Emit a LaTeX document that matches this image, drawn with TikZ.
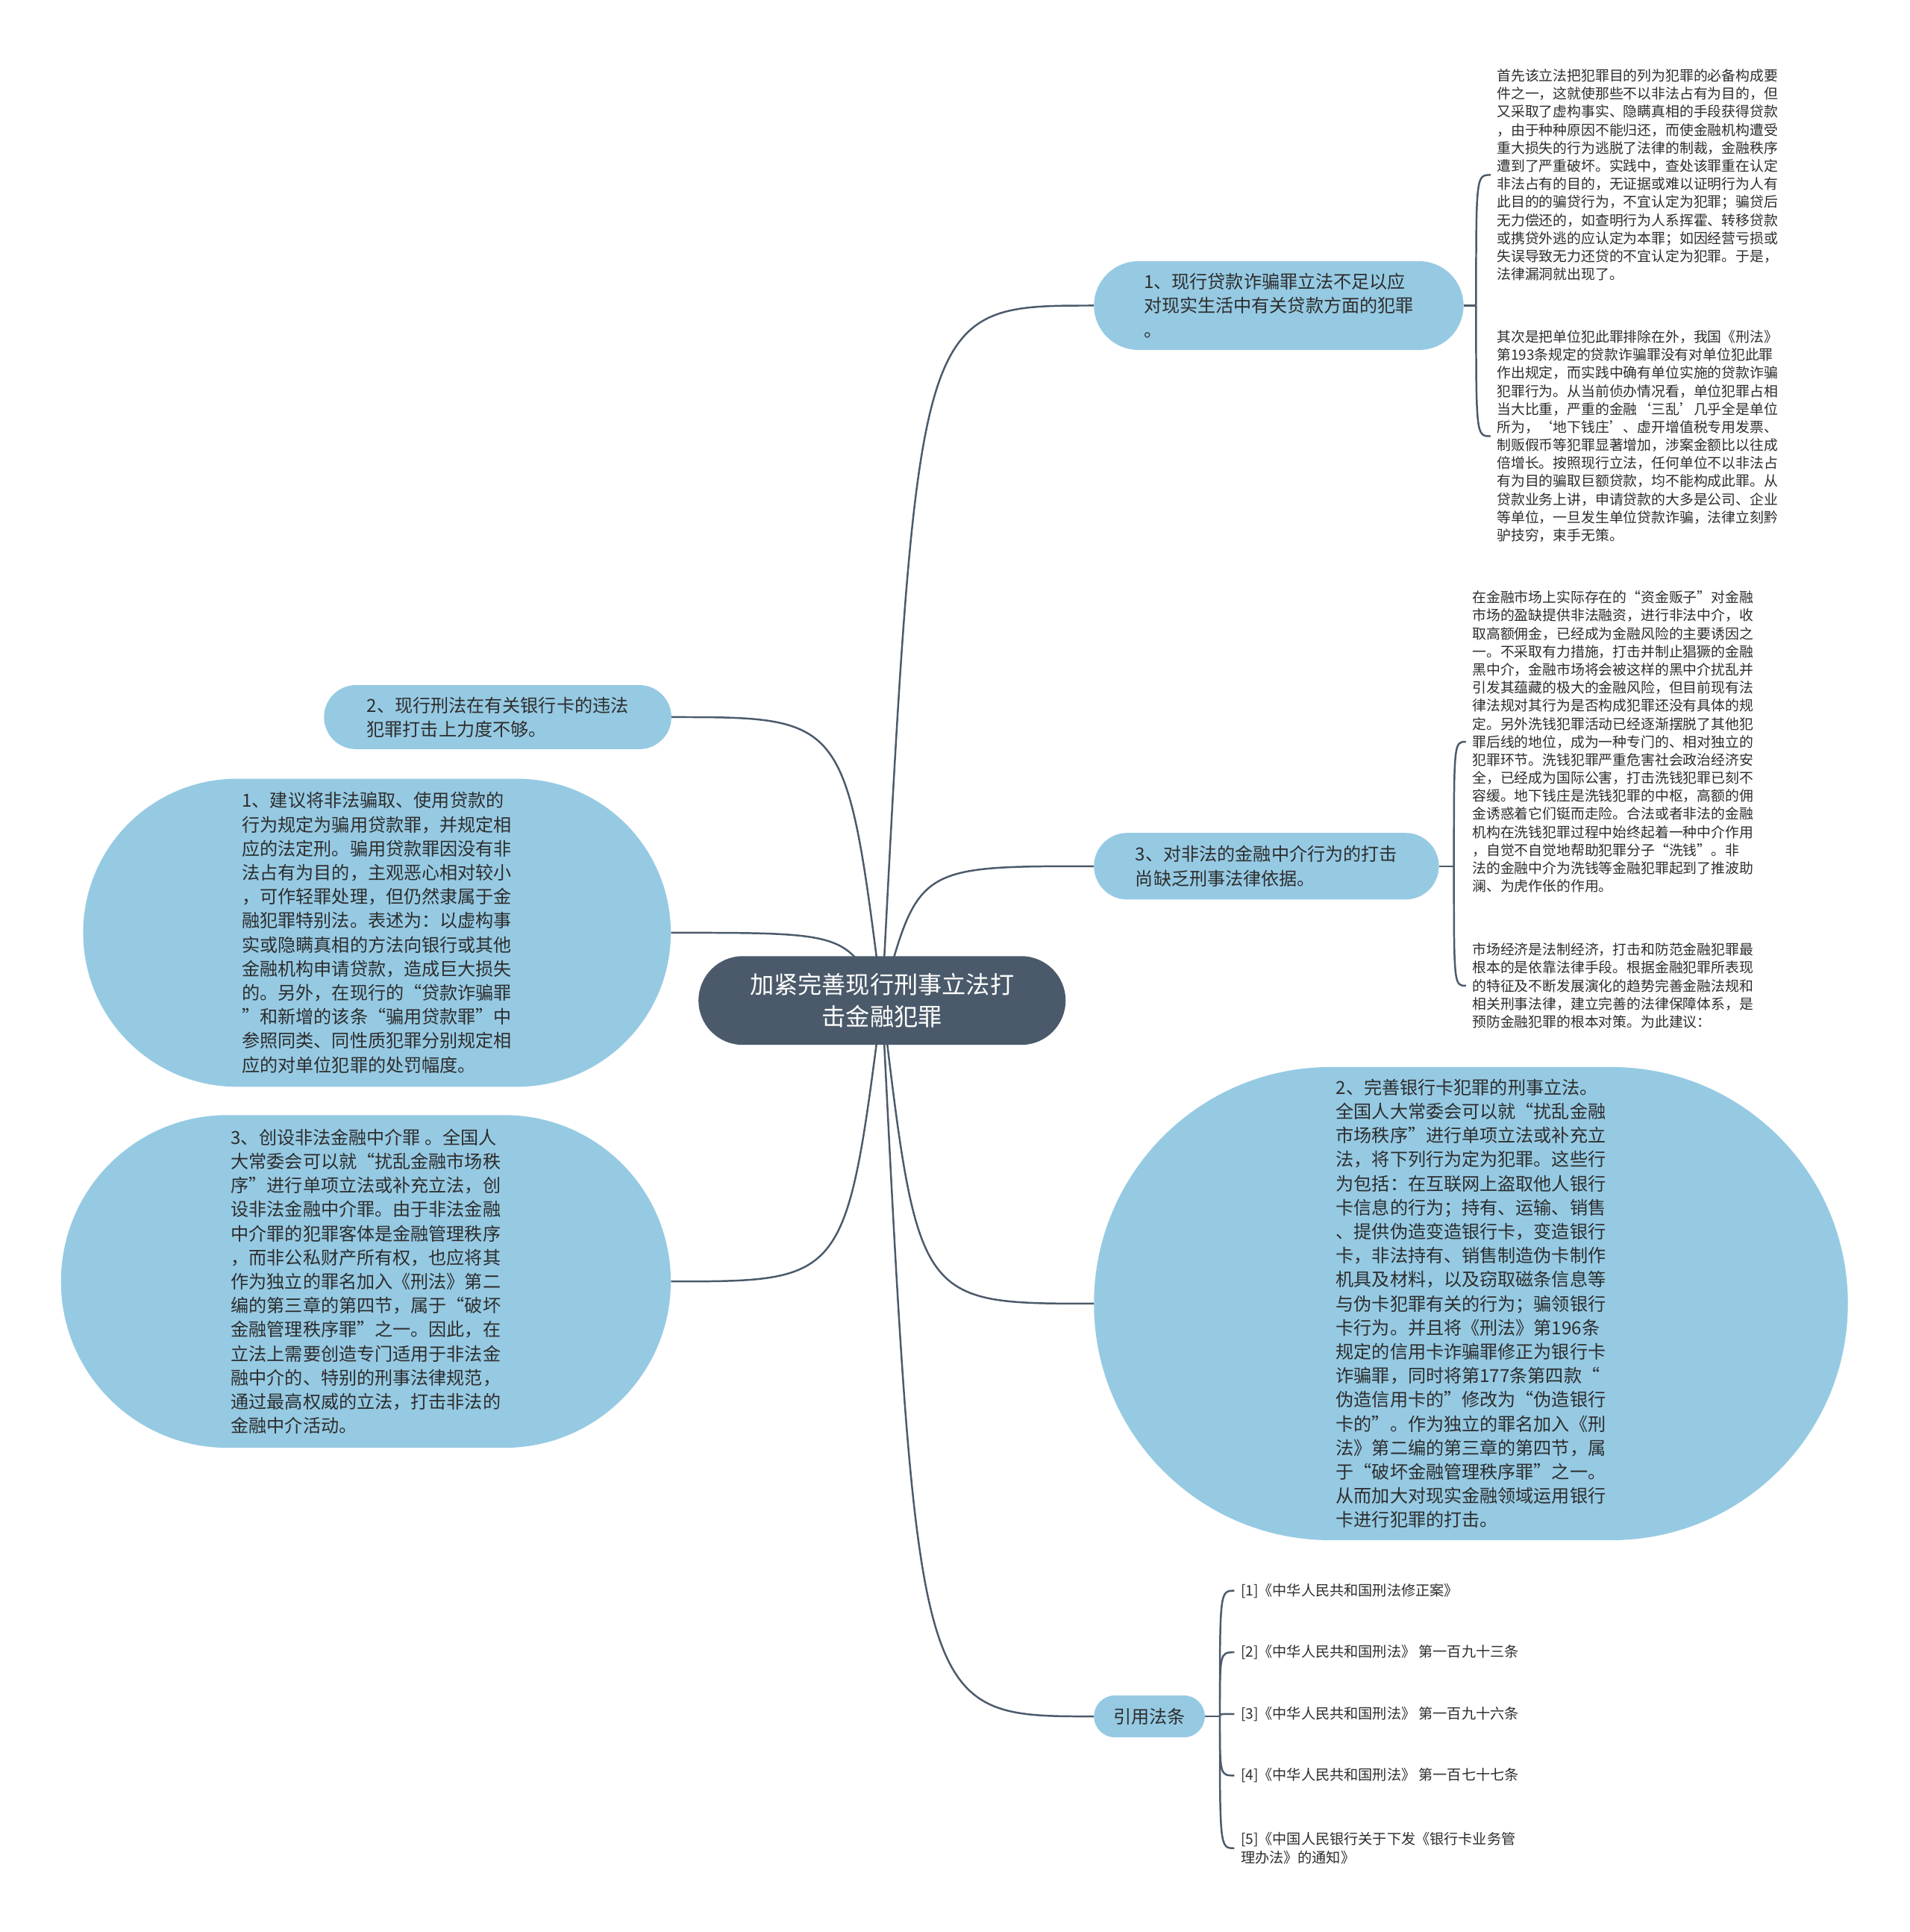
\documentclass[tikz,border=0pt]{standalone}
\usepackage{fontspec}
\newfontfamily\cjk{Noto Sans CJK SC}
\usetikzlibrary{backgrounds,calc}
\definecolor{topicblue}{RGB}{150,202,227}
\definecolor{rootgray}{RGB}{75,90,106}
\definecolor{inkgray}{RGB}{45,45,45}

\begin{document}
\begin{tikzpicture}[
  x=1pt, y=-1pt,
  pill/.style 2 args = {minimum width=#1pt, minimum height=#2pt,
                        rounded corners=#2*0.5pt},
  topic/.style  = {fill=topicblue, text=inkgray, align=left, inner sep=0pt,
                   font=\cjk\fontsize{14.6}{19.5}\selectfont},
  rootbox/.style = {fill=rootgray, text=white, align=center, inner sep=0pt,
                   font=\cjk\fontsize{19.5}{26}\selectfont},
  note/.style   = {anchor=west, align=left, inner ysep=0pt, inner xsep=5pt,
                   text=inkgray, font=\cjk\fontsize{11.4}{14.65}\selectfont},
  refnote/.style = {note, font=\cjk\fontsize{11.6}{15}\selectfont},
  link/.style   = {draw=rootgray, line width=1.5pt},
]
\useasboundingbox (0,0) rectangle (1550,1568);

\node[rootbox, pill={298}{72}] (root) at (716,812) {加紧完善现行刑事立法打\\击金融犯罪};

\node[topic, pill={300}{72}] (loan) at (1038,248) {1、现行贷款诈骗罪立法不足以应\\对现实生活中有关贷款方面的犯罪\\。};
\node[topic, pill={282}{52}] (card) at (404,582) {2、现行刑法在有关银行卡的违法\\犯罪打击上力度不够。};
\node[topic, pill={280}{54}] (agent) at (1028,703) {3、对非法的金融中介行为的打击\\尚缺乏刑事法律依据。};
\node[topic, pill={477}{250}] (sugg1) at (306,757) {1、建议将非法骗取、使用贷款的\\行为规定为骗用贷款罪，并规定相\\应的法定刑。骗用贷款罪因没有非\\法占有为目的，主观恶心相对较小\\，可作轻罪处理，但仍然隶属于金\\融犯罪特别法。表述为：以虚构事\\实或隐瞒真相的方法向银行或其他\\金融机构申请贷款，造成巨大损失\\的。另外，在现行的“贷款诈骗罪\\”和新增的该条“骗用贷款罪”中\\参照同类、同性质犯罪分别规定相\\应的对单位犯罪的处罚幅度。};
\node[topic, pill={495}{270}] (sugg3) at (297,1040) {3、创设非法金融中介罪 。全国人\\大常委会可以就“扰乱金融市场秩\\序”进行单项立法或补充立法，创\\设非法金融中介罪。由于非法金融\\中介罪的犯罪客体是金融管理秩序\\，而非公私财产所有权，也应将其\\作为独立的罪名加入《刑法》第二\\编的第三章的第四节，属于“破坏\\金融管理秩序罪”之一。因此，在\\立法上需要创造专门适用于非法金\\融中介的、特别的刑事法律规范，\\通过最高权威的立法，打击非法的\\金融中介活动。};
\node[topic, pill={612}{384}] (sugg2) at (1194,1058) {2、完善银行卡犯罪的刑事立法。\\全国人大常委会可以就“扰乱金融\\市场秩序”进行单项立法或补充立\\法，将下列行为定为犯罪。这些行\\为包括：在互联网上盗取他人银行\\卡信息的行为；持有、运输、销售\\、提供伪造变造银行卡，变造银行\\卡，非法持有、销售制造伪卡制作\\机具及材料，以及窃取磁条信息等\\与伪卡犯罪有关的行为；骗领银行\\卡行为。并且将《刑法》第196条\\规定的信用卡诈骗罪修正为银行卡\\诈骗罪，同时将第177条第四款“\\伪造信用卡的”修改为“伪造银行\\卡的”。作为独立的罪名加入《刑\\法》第二编的第三章的第四节，属\\于“破坏金融管理秩序罪”之一。\\从而加大对现实金融领域运用银行\\卡进行犯罪的打击。};
\node[topic, pill={90}{34}] (cite) at (933,1393) {引用法条};

\node[note] (loanA) at (1210,142) {首先该立法把犯罪目的列为犯罪的必备构成要\\件之一，这就使那些不以非法占有为目的，但\\又采取了虚构事实、隐瞒真相的手段获得贷款\\，由于种种原因不能归还，而使金融机构遭受\\重大损失的行为逃脱了法律的制裁，金融秩序\\遭到了严重破坏。实践中，查处该罪重在认定\\非法占有的目的，无证据或难以证明行为人有\\此目的的骗贷行为，不宜认定为犯罪；骗贷后\\无力偿还的，如查明行为人系挥霍、转移贷款\\或携贷外逃的应认定为本罪；如因经营亏损或\\失误导致无力还贷的不宜认定为犯罪。于是，\\法律漏洞就出现了。};
\node[note] (loanB) at (1210,354) {其次是把单位犯此罪排除在外，我国《刑法》\\第193条规定的贷款诈骗罪没有对单位犯此罪\\作出规定，而实践中确有单位实施的贷款诈骗\\犯罪行为。从当前侦办情况看，单位犯罪占相\\当大比重，严重的金融‘三乱’几乎全是单位\\所为，‘地下钱庄’、虚开增值税专用发票、\\制贩假币等犯罪显著增加，涉案金额比以往成\\倍增长。按照现行立法，任何单位不以非法占\\有为目的骗取巨额贷款，均不能构成此罪。从\\贷款业务上讲，申请贷款的大多是公司、企业\\等单位，一旦发生单位贷款诈骗，法律立刻黔\\驴技穷，束手无策。};
\node[note] (agentA) at (1190,602) {在金融市场上实际存在的“资金贩子”对金融\\市场的盈缺提供非法融资，进行非法中介，收\\取高额佣金，已经成为金融风险的主要诱因之\\一。不采取有力措施，打击并制止猖獗的金融\\黑中介，金融市场将会被这样的黑中介扰乱并\\引发其蕴藏的极大的金融风险，但目前现有法\\律法规对其行为是否构成犯罪还没有具体的规\\定。另外洗钱犯罪活动已经逐渐摆脱了其他犯\\罪后线的地位，成为一种专门的、相对独立的\\犯罪环节。洗钱犯罪严重危害社会政治经济安\\全，已经成为国际公害，打击洗钱犯罪已刻不\\容缓。地下钱庄是洗钱犯罪的中枢，高额的佣\\金诱惑着它们铤而走险。合法或者非法的金融\\机构在洗钱犯罪过程中始终起着一种中介作用\\，自觉不自觉地帮助犯罪分子“洗钱”。非\\法的金融中介为洗钱等金融犯罪起到了推波助\\澜、为虎作伥的作用。};
\node[note] (agentB) at (1190,800) {市场经济是法制经济，打击和防范金融犯罪最\\根本的是依靠法律手段。根据金融犯罪所表现\\的特征及不断发展演化的趋势完善金融法规和\\相关刑事法律，建立完善的法律保障体系，是\\预防金融犯罪的根本对策。为此建议：};

\node[refnote] (ref1) at (1002,1291) {[1]《中华人民共和国刑法修正案》};
\node[refnote] (ref2) at (1002,1341) {[2]《中华人民共和国刑法》 第一百九十三条};
\node[refnote] (ref3) at (1002,1391) {[3]《中华人民共和国刑法》 第一百九十六条};
\node[refnote] (ref4) at (1002,1441) {[4]《中华人民共和国刑法》 第一百七十七条};
\node[refnote] (ref5) at (1002,1500) {[5]《中国人民银行关于下发《银行卡业务管\\理办法》的通知》};

\coordinate (loanS)  at ([xshift=10pt]loan.east);
\coordinate (agentS) at ([xshift=12pt]agent.east);
\coordinate (citeS)  at ([xshift=12pt]cite.east);

\begin{scope}[on background layer]
\fill[white] (0,0) rectangle (1550,1568);
\foreach \t/\a in {loan/west,agent/west,sugg2/west,cite/west,card/east,sugg1/east,sugg3/east}
  \draw[link] (root.center) .. controls ({$(root.center)!0.17!(\t.\a)$} |- \t.\a) .. (\t.\a);
\end{scope}

\draw[link] (loan.east) -- (loanS);
\draw[link] (loanS) .. controls (loanS |- loanA.west) .. (loanA.west);
\draw[link] (loanS) .. controls (loanS |- loanB.west) .. (loanB.west);
\draw[link] (agent.east) -- (agentS);
\draw[link] (agentS) .. controls (agentS |- agentA.west) .. (agentA.west);
\draw[link] (agentS) .. controls (agentS |- agentB.west) .. (agentB.west);
\draw[link] (cite.east) -- (citeS);
\foreach \r in {ref1,ref2,ref3,ref4,ref5}
  \draw[link] (citeS) .. controls (citeS |- \r.west) .. (\r.west);

\end{tikzpicture}
\end{document}
